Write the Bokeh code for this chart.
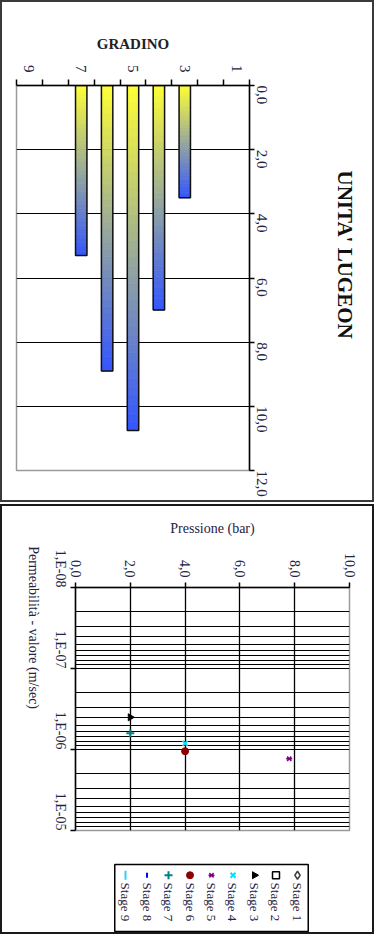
import math
from bokeh.plotting import figure
from bokeh.models import Range1d, FixedTicker, ColumnDataSource, Title, Div
from bokeh.layouts import column, row
from bokeh.embed import file_html
from bokeh.resources import INLINE

# ---------------- data ----------------
stages = [1, 2, 3, 4, 5, 6, 7, 8, 9]
lugeon = [None, None, 3.5, 7.0, 10.75, 8.9, 5.3, None, None]   # Unita' Lugeon per gradino
gradino_labels = [1, 3, 5, 7, 9]
lugeon_ticks = [0, 2, 4, 6, 8, 10, 12]
lugeon_tick_labels = ["0,0", "2,0", "4,0", "6,0", "8,0", "10,0", "12,0"]

pressure_ticks = [0, 2, 4, 6, 8, 10]
pressure_tick_labels = ["0,0", "2,0", "4,0", "6,0", "8,0", "10,0"]
perm_ticks = [1e-8, 1e-7, 1e-6, 1e-5]
perm_tick_labels = ["1,E-08", "1,E-07", "1,E-06", "1,E-05"]

pt_stage = [3, 7, 4, 6, 5]
pt_pressure = [2.0, 2.0, 4.0, 4.0, 7.8]
pt_perm = [4.0e-7, 6.3e-7, 8.4e-7, 1.05e-6, 1.3e-6]

legend_stages = [1, 2, 3, 4, 5, 6, 7, 8, 9]

# ---------------- styles ----------------
SERIF = "Liberation Serif"
TXT = "#23233f"
YELLOW = (255, 255, 51)
BLUE = (51, 85, 255)
STYLE = {
    1: dict(marker="diamond", line="#404040", fill="white", size=8, angle=0.0, lw=1.5),
    2: dict(marker="square", line="black", fill="white", size=7, angle=0.0, lw=1.5),
    3: dict(marker="triangle", line="black", fill="black", size=7, angle=-math.pi / 2, lw=1),
    4: dict(marker="x", line="#00e0ff", fill="#00e0ff", size=7, angle=0.0, lw=2),
    5: dict(marker="x", line="#800080", fill="#800080", size=6, angle=0.0, lw=1.5),
    6: dict(marker="circle", line="#8b0000", fill="#8b0000", size=7, angle=0.0, lw=1),
    7: dict(marker="cross", line="#008080", fill="#008080", size=8, angle=0.0, lw=2),
    8: dict(marker="dash", line="#0000ff", fill="#0000ff", size=5, angle=math.pi / 2, lw=2),
    9: dict(marker="dash", line="#33ccff", fill="#33ccff", size=9, angle=math.pi / 2, lw=2),
}


def mix(f):
    r, g, b = (int(round(a + (c - a) * f)) for a, c in zip(YELLOW, BLUE))
    return "#%02x%02x%02x" % (r, g, b)


def hline(w, color):
    return Div(text="", width=w, height=2, margin=0, styles={"background-color": color})


def vline(h, color):
    return Div(text="", width=2, height=h, margin=0, styles={"background-color": color})


# ================= TOP: UNITA' LUGEON =================
top = figure(width=370, height=498, x_range=Range1d(9.5, 0.5), y_range=Range1d(12, 0),
             x_axis_location="above", y_axis_location="right",
             output_backend="svg", toolbar_location=None,
             min_border_left=14, min_border_right=123, min_border_top=83, min_border_bottom=30,
             outline_line_color="#9a9a9a", outline_line_width=1.5)

xa = top.xaxis[0]
xa.ticker = FixedTicker(ticks=gradino_labels, minor_ticks=[s - 0.5 for s in stages] + [stages[-1] + 0.5])
xa.major_tick_line_color = None
xa.major_tick_out = 6
xa.major_tick_in = 0
xa.minor_tick_line_color = "black"
xa.minor_tick_line_width = 1.5
xa.minor_tick_out = 6
xa.minor_tick_in = 0
xa.axis_line_color = "black"
xa.axis_line_width = 1.5
xa.major_label_orientation = -math.pi / 2
xa.major_label_text_font = SERIF
xa.major_label_text_font_size = "15px"
xa.major_label_text_color = TXT
xa.major_label_standoff = 7
xa.axis_label = "GRADINO"
xa.axis_label_text_font = SERIF
xa.axis_label_text_font_style = "bold"
xa.axis_label_text_font_size = "15px"
xa.axis_label_text_color = "#222"
xa.axis_label_standoff = 10

ya = top.yaxis[0]
ya.ticker = FixedTicker(ticks=lugeon_ticks)
ya.major_label_overrides = dict(zip(lugeon_ticks, lugeon_tick_labels))
ya.major_tick_out = 5
ya.major_tick_in = 0
ya.major_tick_line_color = "black"
ya.major_tick_line_width = 1.5
ya.minor_tick_line_color = None
ya.axis_line_color = "black"
ya.axis_line_width = 1.5
ya.major_label_orientation = -math.pi / 2
ya.major_label_text_font = SERIF
ya.major_label_text_font_size = "15px"
ya.major_label_text_color = TXT
ya.major_label_standoff = 7

top.xgrid.grid_line_color = None
top.ygrid.grid_line_color = "black"
top.ygrid.grid_line_width = 1.2

# gradient bars: slices from 0 to each value
N = 40
L, R, T, B, C = [], [], [], [], []
bx, bv = [], []
for s, v in zip(stages, lugeon):
    if v is None:
        continue
    bx.append(s)
    bv.append(v)
    for i in range(N):
        L.append(s - 0.22)
        R.append(s + 0.22)
        B.append(v * i / N)
        T.append(v * (i + 1) / N)
        C.append(mix((i + 0.5) / N))
top.quad(left=L, right=R, top=T, bottom=B, fill_color=C, line_color=C, line_width=0.7)
top.vbar(x=bx, top=bv, bottom=0, width=0.44, fill_color=None, line_color="#111111", line_width=1.5)

# title: the two empty lines after the text push it away from the value axis
top.add_layout(Title(text="UNITA' LUGEON\n\n", align="left", offset=85, standoff=20,
                     text_font=SERIF, text_font_size="21px", text_font_style="bold",
                     text_line_height=1.0, text_color="#111"), "right")

# ================= BOTTOM: permeability vs pressure =================
low = figure(width=370, height=334, x_range=Range1d(0, 10), y_range=Range1d(1e-5, 1e-8),
             y_axis_type="log", x_axis_location="above",
             output_backend="svg", toolbar_location=None,
             min_border_left=73, min_border_right=23, min_border_top=81, min_border_bottom=10,
             outline_line_color="#9a9a9a", outline_line_width=1.5)

lx = low.xaxis[0]
lx.ticker = FixedTicker(ticks=pressure_ticks)
lx.major_label_overrides = dict(zip(pressure_ticks, pressure_tick_labels))
lx.major_tick_out = 5
lx.major_tick_in = 0
lx.major_tick_line_color = "black"
lx.major_tick_line_width = 1.5
lx.minor_tick_line_color = None
lx.axis_line_color = "black"
lx.axis_line_width = 1.5
lx.major_label_orientation = -math.pi / 2
lx.major_label_text_font = SERIF
lx.major_label_text_font_size = "14px"
lx.major_label_text_color = TXT
lx.major_label_standoff = 5
lx.axis_label = "Pressione (bar)"
lx.axis_label_text_font = SERIF
lx.axis_label_text_font_style = "normal"
lx.axis_label_text_font_size = "14px"
lx.axis_label_text_color = TXT
lx.axis_label_standoff = 14

minors = [m * t for t in perm_ticks[:-1] for m in range(2, 10)]
ly = low.yaxis[0]
ly.ticker = FixedTicker(ticks=perm_ticks, minor_ticks=minors)
ly.major_label_overrides = dict(zip(perm_ticks, perm_tick_labels))
ly.major_tick_out = 5
ly.major_tick_in = 0
ly.major_tick_line_color = "black"
ly.major_tick_line_width = 1.5
ly.minor_tick_line_color = None
ly.axis_line_color = "black"
ly.axis_line_width = 1.5
ly.major_label_orientation = -math.pi / 2
ly.major_label_text_font = SERIF
ly.major_label_text_font_size = "14px"
ly.major_label_text_color = TXT
ly.major_label_standoff = 10
ly.axis_label = "Permeabilità - valore (m/sec)"
ly.axis_label_text_font = SERIF
ly.axis_label_text_font_style = "normal"
ly.axis_label_text_font_size = "14px"
ly.axis_label_text_color = TXT
ly.axis_label_standoff = 9
try:
    ly.axis_label_orientation = -math.pi / 2
except Exception:
    pass

low.xgrid.grid_line_color = "black"
low.xgrid.grid_line_width = 1.3
low.ygrid.grid_line_color = "black"
low.ygrid.grid_line_width = 1
low.ygrid.minor_grid_line_color = "black"
low.ygrid.minor_grid_line_width = 1

src = ColumnDataSource(dict(
    x=pt_pressure, y=pt_perm,
    marker=[STYLE[s]["marker"] for s in pt_stage],
    line=[STYLE[s]["line"] for s in pt_stage],
    fill=[STYLE[s]["fill"] for s in pt_stage],
    size=[STYLE[s]["size"] for s in pt_stage],
    angle=[STYLE[s]["angle"] for s in pt_stage],
    lw=[STYLE[s]["lw"] for s in pt_stage],
))
low.scatter("x", "y", marker="marker", line_color="line", fill_color="fill", size="size",
            angle="angle", line_width="lw", source=src)
# star marker of stage 5 (extra bar)
s5x = [x for x, s in zip(pt_pressure, pt_stage) if s == 5]
s5y = [y for y, s in zip(pt_perm, pt_stage) if s == 5]
low.scatter(s5x, s5y, marker="dash", size=6, line_color="#800080", line_width=1.5)

# ================= legend (rotated entries) =================
leg = figure(width=370, height=92, x_range=Range1d(10.826, -1.919), y_range=Range1d(1.015, -0.09),
             x_axis_type=None, y_axis_type=None,
             output_backend="svg", toolbar_location=None,
             min_border_left=73, min_border_right=23, min_border_top=18, min_border_bottom=0,
             outline_line_color=None)
leg.grid.grid_line_color = None
leg.quad(left=[legend_stages[-1]], right=[0], top=[0], bottom=[1],
         fill_color=None, line_color="black", line_width=1.5)
lsrc = ColumnDataSource(dict(
    x=[s - 0.5 for s in legend_stages],
    y=[0.16] * len(legend_stages),
    ty=[0.27] * len(legend_stages),
    label=["Stage %d" % s for s in legend_stages],
    marker=[STYLE[s]["marker"] for s in legend_stages],
    line=[STYLE[s]["line"] for s in legend_stages],
    fill=[STYLE[s]["fill"] for s in legend_stages],
    size=[STYLE[s]["size"] for s in legend_stages],
    angle=[STYLE[s]["angle"] for s in legend_stages],
    lw=[STYLE[s]["lw"] for s in legend_stages],
))
leg.scatter("x", "y", marker="marker", line_color="line", fill_color="fill", size="size",
            angle="angle", line_width="lw", source=lsrc)
leg.scatter([5 - 0.5], [0.16], marker="dash", size=6, line_color="#800080", line_width=1.5)
leg.text("x", "ty", text="label", angle=-math.pi / 2, text_align="left", text_baseline="middle",
         text_font={"value": SERIF}, text_font_size={"value": "13px"}, text_color=TXT, source=lsrc)

# ================= outer boxes =================
top_box = row(vline(502, "#3a3a3a"),
              column(hline(370, "#3a3a3a"), top, hline(370, "#3a3a3a"), spacing=0),
              vline(502, "#3a3a3a"), spacing=0)
low_box = row(vline(430, "#1a1a1a"),
              column(hline(370, "#1a1a1a"), low, leg, hline(370, "#1a1a1a"), spacing=0),
              vline(430, "#1a1a1a"), spacing=0)
gap = Div(text="", width=374, height=2, margin=0)
layout = column(top_box, gap, low_box, spacing=0)

open("out.html", "w").write(file_html(layout, INLINE))
